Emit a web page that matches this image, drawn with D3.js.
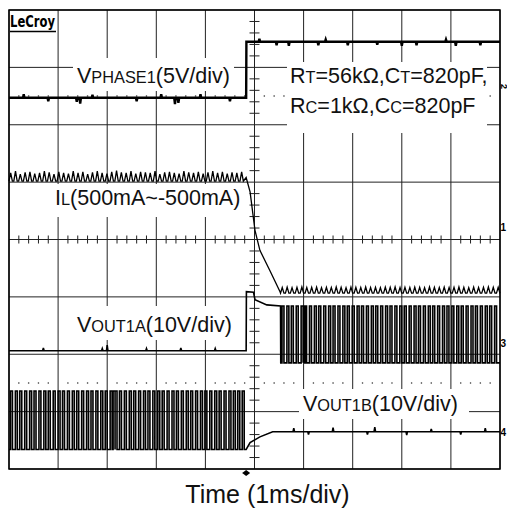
<!DOCTYPE html>
<html>
<head>
<meta charset="utf-8">
<script src="https://cdn.jsdelivr.net/npm/d3@7"></script>
<style>
  html, body { margin: 0; padding: 0; background: #fff; }
</style>
</head>
<body>
<div id="chart"></div>
<script>
// ---- scope settings / data ----
const timeTicks = [-5, -4, -3, -2, -1, 0, 1, 2, 3, 4, 5];   // ms, 1ms/div
const divTicks = [-4, -3, -2, -1, 0, 1, 2, 3, 4];

// per channel: units per division and ground level in divisions
const chIL = { scale: 500, ground: 0.1 };      // mA/div
const chPhase = { scale: 5, ground: 2.47 };    // V/div
const chOutA = { scale: 10, ground: -1.94 };   // V/div
const chOutB = { scale: 10, ground: -3.35 };   // V/div

const triggerTime = -0.17;
const traceEnd = 5;
const traceStart = -5;

// VPHASE1 (V)
const phaseLow = 0;
const phaseHigh = 4.88;
const phaseLowGlitches = [[-4.7, 0.3], [-4.2, -0.3], [-3.62, -0.35], [-3.55, -0.5], [-3.3, 0.25], [-2.4, -0.3],
  [-1.9, 0.3], [-1.62, -0.55], [-1.55, -0.45], [-1.1, 0.3], [-0.5, -0.3]];
const phaseHighGlitches = [[0.1, 0.25], [0.45, -0.3], [0.7, -0.35], [1.3, -0.3], [1.45, 0.2], [1.9, -0.3],
  [2.5, -0.25], [3.0, -0.35], [3.3, -0.3], [3.9, 0.2], [4.1, -0.35], [4.6, -0.3]];

// IL (mA)
const ilPeriod = 0.098;
const ilValleyBefore = 458;
const ilPeaksBefore = [530, 545, 520, 535, 540, 525, 530, 545, 535, 520, 540, 530, 525, 545, 530, 540, 520, 535,
  545, 530, 525, 540, 550, 535, 530, 545, 525, 540, 535, 530, 545, 520, 535, 540, 530, 525, 545, 535, 530, 540,
  525, 535, 545, 530, 540, 525, 535, 530, 540];
const ilRamp = [[-0.17, 490], [-0.09, 365], [0.01, 30], [0.11, -144], [0.31, -318], [0.52, -505]];
const ilValleyAfter = -518;
const ilPeaksAfter = [-468, -465, -470, -466, -464, -469, -467, -465, -470, -466, -468, -463, -467, -470, -465,
  -466, -469, -464, -468, -466, -470, -465, -467, -463, -468, -466, -469, -465, -467, -470, -464, -466, -468,
  -465, -469, -467, -464, -466, -470, -465, -468, -466, -463, -467, -466];

// VOUT1A (V)
const outAPre = 0;
const outAPreGlitches = [[-4.3, 0.5], [-3.1, 0.4], [-3.0, 1.0], [-2.2, 0.4], [-1.5, 0.5], [-0.8, 0.4]];
const outAStep = [[-0.17, 0], [-0.165, 10.3], [-0.02, 10.2], [0.01, 8.9], [0.25, 8.0], [0.53, 7.8], [0.535, -2.1]];
const outAHigh = 7.8;
const outALow = -2.1;
const outAEdges = [0.56, 0.66, 0.75, 0.85, 0.95, 0.99, 1.02, 1.12, 1.22, 1.31, 1.41, 1.51, 1.60, 1.70, 1.80,
  1.89, 1.99, 2.09, 2.18, 2.28, 2.38, 2.47, 2.57, 2.67, 2.76, 2.86, 2.96, 3.05, 3.15, 3.25, 3.34, 3.44, 3.54,
  3.63, 3.73, 3.83, 3.92, 4.02, 4.12, 4.21, 4.31, 4.41, 4.50, 4.60, 4.70, 4.79, 4.89];

// VOUT1B (V)
const outBHigh = 7.1;
const outBLow = -3.1;
const outBEdges = [-4.97, -4.87, -4.78, -4.68, -4.58, -4.49, -4.39, -4.29, -4.20, -4.10, -4.00, -3.91, -3.81,
  -3.71, -3.62, -3.52, -3.42, -3.33, -3.23, -3.13, -3.04, -2.94, -2.88, -2.84, -2.75, -2.65, -2.55, -2.46,
  -2.36, -2.26, -2.17, -2.07, -1.97, -1.88, -1.78, -1.68, -1.59, -1.49, -1.39, -1.30, -1.20, -1.10, -1.01,
  -0.91, -0.81, -0.72, -0.62, -0.52, -0.43, -0.34, -0.25];
const outBRecovery = [[-0.17, -3.1], [-0.09, -1.9], [0.11, -0.9], [0.37, 0]];
const outBPost = 0;
const outBPostGlitches = [[0.8, 0.6], [1.1, -0.5], [1.6, 0.7], [2.3, -0.5], [2.45, 0.8], [3.1, -0.6],
  [3.6, 0.5], [4.2, -0.5], [4.7, 0.6]];
const pulseWidth = 0.04;

// ---- layout ----
const W = 507, H = 510;
const pL = 9, pR = 500, pT = 10, pB = 469;

const svg = d3.select("#chart").append("svg")
  .attr("width", W).attr("height", H)
  .style("font-family", "'Liberation Sans', Arial, sans-serif");

const x = d3.scaleLinear().domain([-5, 5]).range([pL, pR]);
const yDiv = d3.scaleLinear().domain([-4, 4]).range([pB, pT]);
const yCh = ch => v => yDiv(ch.ground + v / ch.scale);

// grid
const grid = svg.append("g").attr("stroke", "#222").attr("stroke-width", 1);
grid.selectAll("line.v").data(timeTicks).enter().append("line")
  .attr("x1", d => x(d)).attr("x2", d => x(d)).attr("y1", pT).attr("y2", pB);
grid.selectAll("line.h").data(divTicks).enter().append("line")
  .attr("x1", pL).attr("x2", pR).attr("y1", d => yDiv(d)).attr("y2", d => yDiv(d));

// minor ticks on centre axes
const minorT = d3.range(-25, 26).filter(k => k % 5 !== 0).map(k => k / 5);
const minorD = d3.range(-20, 21).filter(k => k % 5 !== 0).map(k => k / 5);
grid.selectAll("line.mt").data(minorT).enter().append("line")
  .attr("x1", d => x(d)).attr("x2", d => x(d)).attr("y1", yDiv(0) - 4).attr("y2", yDiv(0) + 4);
grid.selectAll("line.md").data(minorD).enter().append("line")
  .attr("x1", x(0) - 5).attr("x2", x(0) + 5).attr("y1", d => yDiv(d)).attr("y2", d => yDiv(d));

// dotted marker rows at +/-2.5 div
[2.5, -2.5].forEach(dv => {
  svg.append("g").selectAll("circle").data(minorT).enter().append("circle")
    .attr("cx", d => x(d)).attr("cy", yDiv(dv)).attr("r", 0.8).attr("fill", "#333");
});

// frame
svg.append("rect").attr("x", pL).attr("y", pT).attr("width", pR - pL).attr("height", pB - pT)
  .attr("fill", "none").attr("stroke", "#000").attr("stroke-width", 1.5);

// label boxes (white, cover the grid)
const boxes = [[73, 58, 161, 33], [287, 62, 200, 71], [51, 184, 191, 33], [73, 306, 164, 34], [299, 389, 170, 30]];
svg.append("g").selectAll("rect").data(boxes).enter().append("rect")
  .attr("x", d => d[0]).attr("y", d => d[1]).attr("width", d => d[2]).attr("height", d => d[3])
  .attr("fill", "#fff");

// ---- trace builders ----
function flat(t0, t1, level, glitches) {
  const pts = [[t0, level]];
  (glitches || []).forEach(([t, d]) => {
    pts.push([t - 0.015, level], [t, level + d], [t + 0.015, level]);
  });
  pts.push([t1, level]);
  return pts;
}
function pulses(edges, low, high, w) {
  const pts = [];
  edges.forEach(e => pts.push([e, low], [e, high], [e + w, high], [e + w, low]));
  return pts;
}
function ripple(t0, period, peaks, valley) {
  const pts = [];
  peaks.forEach((p, i) => {
    const t = t0 + i * period;
    pts.push([t, valley], [t + period * 0.35, p], [t + period * 0.7, valley]);
  });
  return pts;
}

const phasePts = [].concat(
  flat(traceStart, triggerTime, phaseLow, phaseLowGlitches),
  flat(triggerTime + 0.005, traceEnd, phaseHigh, phaseHighGlitches));

const ilPts = [].concat(
  ripple(traceStart, ilPeriod, ilPeaksBefore, ilValleyBefore),
  ilRamp,
  ripple(0.53, ilPeriod * 1.02, ilPeaksAfter, ilValleyAfter),
  [[traceEnd, ilValleyAfter]]);

const outAPts = [].concat(
  flat(traceStart, triggerTime, outAPre, outAPreGlitches),
  outAStep,
  pulses(outAEdges, outALow, outAHigh, pulseWidth),
  [[traceEnd, outALow]]);

const outBPts = [].concat(
  [[traceStart, outBLow]],
  pulses(outBEdges, outBLow, outBHigh, pulseWidth),
  outBRecovery,
  flat(0.4, traceEnd, outBPost, outBPostGlitches));

const traces = [
  { pts: phasePts, ch: chPhase, w: 2.4 },
  { pts: ilPts, ch: chIL, w: 1.3 },
  { pts: outAPts, ch: chOutA, w: 1.6 },
  { pts: outBPts, ch: chOutB, w: 1.6 }
];
const tg = svg.append("g");
traces.forEach(tr => {
  const yy = yCh(tr.ch);
  const line = d3.line().x(d => x(Math.max(-5, Math.min(5, d[0])))).y(d => yy(d[1]));
  tg.append("path").attr("d", line(tr.pts))
    .attr("fill", "none").attr("stroke", "#000").attr("stroke-width", tr.w)
    .attr("stroke-linejoin", "miter");
});

// ---- text ----
function label(xp, yp, parts, size) {
  const t = svg.append("text").attr("x", xp).attr("y", yp).attr("font-size", size).attr("fill", "#111");
  parts.forEach(([s, k]) => t.append("tspan").attr("font-size", size * k).text(s));
}
const fs = 21.5, sc = 0.76;
label(77, 83, [["V", 1], ["PHASE1", sc], ["(5V/div)", 1]], fs);
label(290, 83, [["R", 1], ["T", sc], ["=56k\u03A9,C", 1], ["T", sc], ["=820pF,", 1]], fs);
label(290, 113, [["R", 1], ["C", sc], ["=1k\u03A9,C", 1], ["C", sc], ["=820pF", 1]], fs);
label(55, 205, [["I", 1], ["L", sc], ["(500mA~-500mA)", 1]], fs);
label(77, 332, [["V", 1], ["OUT1A", sc], ["(10V/div)", 1]], fs);
label(303, 411, [["V", 1], ["OUT1B", sc], ["(10V/div)", 1]], fs);

svg.append("text").attr("x", 267.5).attr("y", 503).attr("text-anchor", "middle")
  .attr("font-size", 25).attr("fill", "#111").text("Time (1ms/div)");

// LeCroy logo
svg.append("text").attr("x", 10).attr("y", 27).attr("font-size", 15).attr("font-weight", "bold")
  .attr("font-family", "'DejaVu Sans', sans-serif")
  .attr("textLength", 45).attr("lengthAdjust", "spacingAndGlyphs").text("LeCroy");
svg.append("line").attr("x1", 10).attr("x2", 56).attr("y1", 31.5).attr("y2", 31.5)
  .attr("stroke", "#000").attr("stroke-width", 1.5);

// trigger marker
const tx = x(triggerTime);
svg.append("path").attr("d", `M${tx - 4},${pB + 4}L${tx},${pB + 1}L${tx + 4},${pB + 4}L${tx},${pB + 7}Z`)
  .attr("fill", "#000");

// channel markers at right edge (small so they fit in the margin)
const mk = svg.append("g").attr("font-size", 10).attr("font-weight", "bold").attr("fill", "#000");
[["1", 231], ["3", 347], ["4", 436]].forEach(([s, yp]) => {
  mk.append("text").attr("x", 500.5).attr("y", yp).text(s);
});
mk.append("text").attr("transform", "translate(500.5,84) rotate(90)").attr("font-size", 9).text("2");
</script>
</body>
</html>
